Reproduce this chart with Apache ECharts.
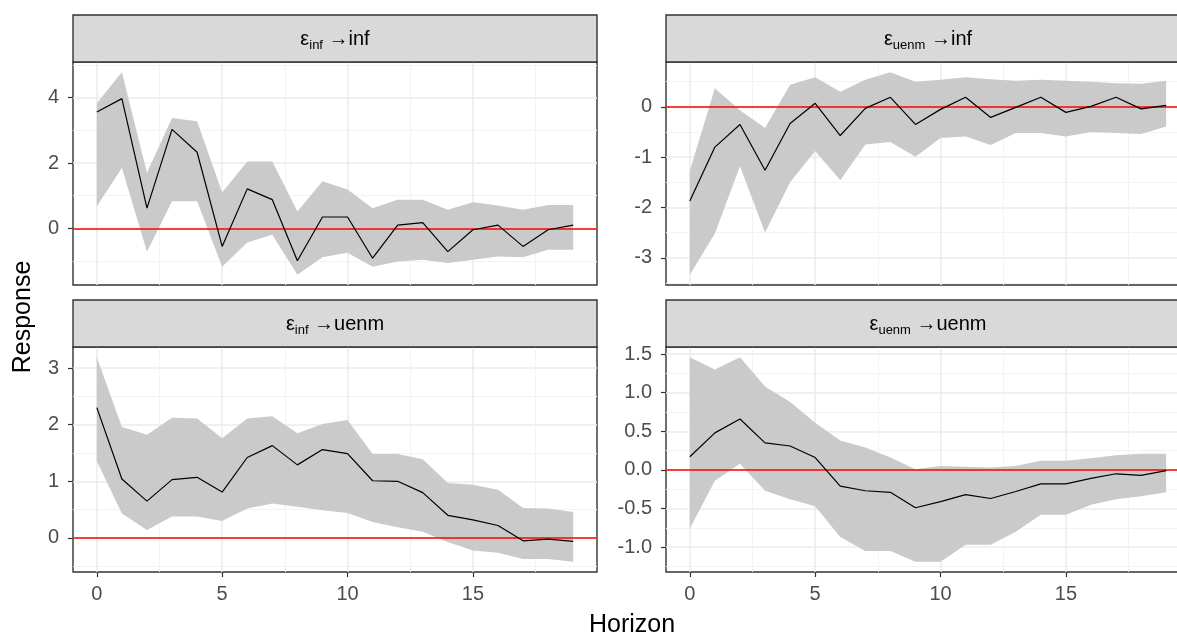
<!DOCTYPE html>
<html>
<head>
<meta charset="utf-8">
<script src="https://cdn.jsdelivr.net/npm/echarts@6/dist/echarts.min.js"></script>
<style>
html, body { margin: 0; padding: 0; background: #fff; }
#chart { width: 1177px; height: 635px; }
</style>
</head>
<body>
<div id="chart"></div>
<script>
// horizon steps
var horizon = [0, 1, 2, 3, 4, 5, 6, 7, 8, 9, 10, 11, 12, 13, 14, 15, 16, 17, 18, 19];
var xTicks = [0, 5, 10, 15];
var xMinor = [2.5, 7.5, 12.5, 17.5];

// eps_inf -> inf
var infInf = [3.56, 3.97, 0.62, 3.03, 2.33, -0.55, 1.21, 0.88, -0.99, 0.35, 0.35, -0.91, 0.10, 0.18, -0.71, -0.04, 0.10, -0.55, -0.04, 0.10];
var infInfLo = [0.68, 1.85, -0.71, 0.83, 0.83, -1.17, -0.43, -0.19, -1.42, -0.88, -0.74, -1.17, -1.01, -0.96, -1.06, -0.96, -0.86, -0.88, -0.65, -0.65];
var infInfHi = [3.83, 4.78, 1.70, 3.38, 3.28, 1.10, 2.05, 2.05, 0.52, 1.44, 1.19, 0.62, 0.88, 0.88, 0.57, 0.80, 0.70, 0.57, 0.72, 0.72];
var infInfTicks = [0, 2, 4];
var infInfMinor = [-1, 1, 3, 5];

// eps_uenm -> inf
var uenmInf = [-1.87, -0.80, -0.35, -1.26, -0.33, 0.07, -0.57, -0.03, 0.19, -0.35, -0.05, 0.19, -0.21, -0.01, 0.19, -0.11, 0.01, 0.19, -0.04, 0.03];
var uenmInfLo = [-3.34, -2.52, -1.18, -2.50, -1.50, -0.88, -1.46, -0.75, -0.70, -0.99, -0.62, -0.59, -0.76, -0.52, -0.52, -0.59, -0.50, -0.52, -0.54, -0.39];
var uenmInfHi = [-1.27, 0.37, -0.07, -0.42, 0.44, 0.59, 0.30, 0.54, 0.69, 0.50, 0.54, 0.59, 0.55, 0.52, 0.54, 0.52, 0.50, 0.47, 0.46, 0.52];
var uenmInfTicks = [-3, -2, -1, 0];
var uenmInfMinor = [-3.5, -2.5, -1.5, -0.5, 0.5];

// eps_inf -> uenm
var infUenm = [2.30, 1.04, 0.65, 1.03, 1.07, 0.81, 1.42, 1.63, 1.29, 1.56, 1.49, 1.01, 1.00, 0.80, 0.40, 0.32, 0.22, -0.05, -0.02, -0.06];
var infUenmLo = [1.36, 0.43, 0.14, 0.38, 0.38, 0.30, 0.52, 0.61, 0.55, 0.49, 0.44, 0.28, 0.19, 0.11, -0.07, -0.22, -0.26, -0.37, -0.37, -0.42];
var infUenmHi = [3.19, 1.96, 1.82, 2.12, 2.11, 1.76, 2.11, 2.15, 1.85, 2.01, 2.08, 1.48, 1.48, 1.39, 0.97, 0.94, 0.85, 0.53, 0.52, 0.46];
var infUenmTicks = [0, 1, 2, 3];
var infUenmMinor = [-0.5, 0.5, 1.5, 2.5];

// eps_uenm -> uenm
var uenmUenm = [0.17, 0.48, 0.66, 0.35, 0.31, 0.16, -0.21, -0.27, -0.29, -0.49, -0.41, -0.32, -0.37, -0.28, -0.18, -0.18, -0.11, -0.05, -0.07, -0.01];
var uenmUenmLo = [-0.76, -0.14, 0.08, -0.27, -0.38, -0.47, -0.87, -1.05, -1.05, -1.19, -1.19, -0.97, -0.97, -0.80, -0.58, -0.58, -0.45, -0.38, -0.34, -0.29];
var uenmUenmHi = [1.46, 1.30, 1.46, 1.08, 0.88, 0.61, 0.38, 0.29, 0.16, 0.01, 0.05, 0.04, 0.03, 0.05, 0.12, 0.12, 0.15, 0.19, 0.21, 0.21];
var uenmUenmTicks = [-1, -0.5, 0, 0.5, 1, 1.5];
var uenmUenmMinor = [-1.25, -0.75, -0.25, 0.25, 0.75, 1.25];

var font = 'Liberation Sans, Arial, sans-serif';
var bandColor = '#CACACA';

var panels = [
  {shock: 'inf', resp: 'inf', irf: infInf, lo: infInfLo, hi: infInfHi, ticks: infInfTicks, minor: infInfMinor, dec: 0,
   left: 73, top: 62, height: 223, bottom: false},
  {shock: 'uenm', resp: 'inf', irf: uenmInf, lo: uenmInfLo, hi: uenmInfHi, ticks: uenmInfTicks, minor: uenmInfMinor, dec: 0,
   left: 666, top: 62, height: 223, bottom: false},
  {shock: 'inf', resp: 'uenm', irf: infUenm, lo: infUenmLo, hi: infUenmHi, ticks: infUenmTicks, minor: infUenmMinor, dec: 0,
   left: 73, top: 347, height: 225, bottom: true},
  {shock: 'uenm', resp: 'uenm', irf: uenmUenm, lo: uenmUenmLo, hi: uenmUenmHi, ticks: uenmUenmTicks, minor: uenmUenmMinor, dec: 1,
   left: 666, top: 347, height: 225, bottom: true}
];
var panelW = 524, stripH = 47, chartW = 1177, chartH = 635;

// ggplot style 5% expansion
function expand(lo, hi) {
  var r = hi - lo;
  return [lo - r * 0.05, hi + r * 0.05];
}
var xr = expand(horizon[0], horizon[horizon.length - 1]);

function bandItem(lo, hi) {
  return function (params, api) {
    if (params.dataIndexInside !== 0) return null;
    var pts = [];
    for (var i = 0; i < horizon.length; i++) pts.push(api.coord([horizon[i], hi[i]]));
    for (var j = horizon.length - 1; j >= 0; j--) pts.push(api.coord([horizon[j], lo[j]]));
    return {type: 'polygon', shape: {points: pts}, style: {fill: bandColor}};
  };
}

var grids = [], xAxes = [], yAxes = [], series = [], graphics = [];
var majorLine = {color: '#EBEBEB', width: 1.5};
var minorLine = {color: '#F3F3F3', width: 1};
var tickLine = {color: '#333333', width: 1.2};

panels.forEach(function (p, i) {
  var yr = expand(Math.min.apply(null, p.lo), Math.max.apply(null, p.hi));
  // right panels run past the right edge (cropped like the source)
  grids.push({left: p.left, right: chartW - p.left - panelW, top: p.top, bottom: chartH - p.top - p.height, show: true,
    outerBoundsMode: 'none', containLabel: false,
    backgroundColor: '#fff', borderColor: '#333333', borderWidth: 1.4});

  xAxes.push({type: 'value', gridIndex: i, min: xr[0], max: xr[1],
    axisLine: {show: false, onZero: false},
    axisTick: {show: p.bottom, length: 5, customValues: xTicks, lineStyle: tickLine},
    axisLabel: {show: p.bottom, customValues: xTicks, fontSize: 20, color: '#4D4D4D', fontFamily: font, margin: 12},
    splitLine: {show: true, lineStyle: majorLine}});
  xAxes.push({type: 'value', gridIndex: i, min: xr[0], max: xr[1],
    axisLine: {show: false, onZero: false},
    axisTick: {show: false, customValues: xMinor},
    axisLabel: {show: false},
    splitLine: {show: true, lineStyle: minorLine}});

  yAxes.push({type: 'value', gridIndex: i, min: yr[0], max: yr[1],
    axisLine: {show: false, onZero: false},
    axisTick: {show: true, length: 5, customValues: p.ticks, lineStyle: tickLine},
    axisLabel: {show: true, customValues: p.ticks, fontSize: 20, color: '#4D4D4D', fontFamily: font, margin: 14,
      formatter: (function (d) { return function (v) { return v.toFixed(d); }; })(p.dec)},
    splitLine: {show: true, lineStyle: majorLine}});
  yAxes.push({type: 'value', gridIndex: i, min: yr[0], max: yr[1],
    axisLine: {show: false, onZero: false},
    axisTick: {show: false, customValues: p.minor},
    axisLabel: {show: false},
    splitLine: {show: true, lineStyle: minorLine}});

  series.push({type: 'custom', xAxisIndex: 2 * i, yAxisIndex: 2 * i, silent: true, z: 2,
    renderItem: bandItem(p.lo, p.hi),
    encode: {x: 0, y: [1, 2]},
    data: horizon.map(function (h, k) { return [h, p.lo[k], p.hi[k]]; })});
  series.push({type: 'line', xAxisIndex: 2 * i, yAxisIndex: 2 * i, z: 4, silent: true,
    symbol: 'none', lineStyle: {color: '#000', width: 1.2},
    data: horizon.map(function (h, k) { return [h, p.irf[k]]; }),
    markLine: {silent: true, symbol: ['none', 'none'], z: 3, animation: false,
      label: {show: false}, lineStyle: {color: '#FF0000', width: 1.6, type: 'solid'},
      data: [{yAxis: 0}]}});

  var stripTop = p.top - stripH;
  graphics.push({type: 'rect', z: 10, shape: {x: p.left, y: stripTop, width: panelW, height: stripH},
    style: {fill: '#D9D9D9', stroke: '#333333', lineWidth: 1.4}});
  graphics.push({type: 'text', z: 11, x: p.left + panelW / 2, y: stripTop + stripH / 2 + 1,
    style: {text: '{e|ε}{s|' + p.shock + '}{a| →}{m|' + p.resp + '}', align: 'center', verticalAlign: 'middle',
      rich: {
        e: {fontSize: 20, fontFamily: font, color: '#333', lineHeight: 24},
        s: {fontSize: 13, fontFamily: font, color: '#777', lineHeight: 12, verticalAlign: 'bottom'},
        a: {fontSize: 20, fontFamily: font, color: '#1A1A1A', lineHeight: 24},
        m: {fontSize: 20, fontFamily: font, color: '#1A1A1A', lineHeight: 24}
      }}});
});

graphics.push({type: 'text', x: 632, y: 625, style: {text: 'Horizon', fontSize: 25, fontFamily: font, fill: '#000',
  align: 'center', verticalAlign: 'middle'}});
graphics.push({type: 'text', x: 23, y: 317, rotation: Math.PI / 2, style: {text: 'Response', fontSize: 25, fontFamily: font,
  fill: '#000', align: 'center', verticalAlign: 'middle'}});

var chart = echarts.init(document.getElementById('chart'));
chart.setOption({
  animation: false,
  backgroundColor: '#fff',
  grid: grids,
  xAxis: xAxes,
  yAxis: yAxes,
  series: series,
  graphic: graphics
});
</script>
</body>
</html>
